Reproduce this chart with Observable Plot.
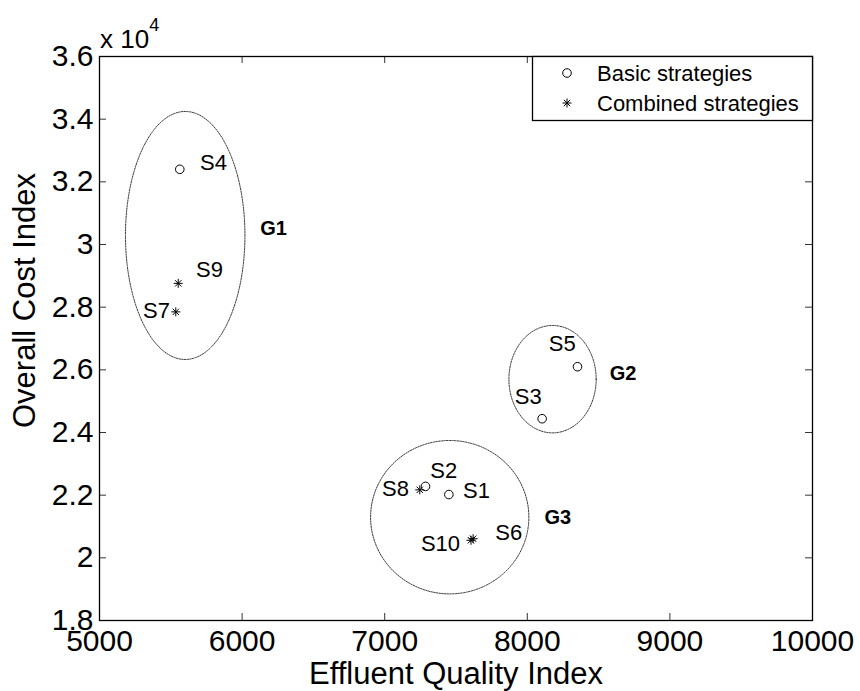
<!DOCTYPE html>
<html><head><meta charset="utf-8">
<script src="https://cdn.jsdelivr.net/npm/d3@7"></script>
<script src="https://cdn.jsdelivr.net/npm/@observablehq/plot@0.6"></script>
<style>
body{margin:0;background:#fff;}
#chart{position:relative;width:860px;height:691px;}
</style>
</head><body><div id="chart"></div>
<script>
// ---- Data ----
const strategies   = ["S1","S2","S3","S4","S5","S6","S7","S8","S9","S10"];
const effluent     = [7450, 7286, 8104, 5563, 8352, 7620, 5535, 7246, 5552, 7605];
const cost         = [22020, 22280, 24440, 32400, 26100, 20610, 27850, 22170, 28760, 20560];
const strategyType = ["Basic","Basic","Basic","Basic","Basic","Combined","Combined","Combined","Combined","Combined"];
// annotation anchor positions (data units) for the S-labels
const labelX       = [7644, 7414, 8006, 5799, 8245, 7870, 5400, 7076, 5771, 7391];
const labelY       = [22127, 22788, 25127, 32587, 26832, 20799, 27895, 22204, 29203, 20448];

const groups       = ["G1","G2","G3"];
const groupCx      = [5601, 8177, 7456];
const groupCy      = [30288, 25702, 21297];
const groupRx      = [419, 306, 555];
const groupRy      = [3958, 1714, 2448];
const groupLabelX  = [6220, 8672, 8214];
const groupLabelY  = [30512, 25893, 21297];

const xTicks       = [5000, 6000, 7000, 8000, 9000, 10000];
const yTicks       = [18000, 20000, 22000, 24000, 26000, 28000, 30000, 32000, 34000, 36000];
const yTickLabels  = ["1.8","2","2.2","2.4","2.6","2.8","3","3.2","3.4","3.6"];
const legendLabels = ["Basic strategies","Combined strategies"];

// ---- Tables ----
const points = strategies.map((s,i)=>({name:s, x:effluent[i], y:cost[i], type:strategyType[i], lx:labelX[i], ly:labelY[i]}));
const ellipsePts = [];
groups.forEach((g,i)=>{
  for(let k=0;k<=180;k++){
    const t = 2*Math.PI*k/180;
    ellipsePts.push({g, x: groupCx[i] + groupRx[i]*Math.cos(t), y: groupCy[i] + groupRy[i]*Math.sin(t)});
  }
});
const groupLabels = groups.map((g,i)=>({g, x:groupLabelX[i], y:groupLabelY[i]}));

// MATLAB-like '*' marker (plus + cross)
const asterisk8 = {
  draw(ctx, size){
    const a = Math.sqrt(size/Math.PI);
    const d = a*0.7071;
    ctx.moveTo(-a,0); ctx.lineTo(a,0);
    ctx.moveTo(0,-a); ctx.lineTo(0,a);
    ctx.moveTo(-d,-d); ctx.lineTo(d,d);
    ctx.moveTo(-d,d); ctx.lineTo(d,-d);
  }
};

const FONT = "'Liberation Sans', Arial, Helvetica, sans-serif";
const W = 860, H = 691, ML = 99, MR = 48, MT = 56, MB = 71;
const FW = W-ML-MR, FH = H-MT-MB;

const chart = Plot.plot({
  width: W, height: H,
  marginLeft: ML, marginRight: MR, marginTop: MT, marginBottom: MB,
  x: {domain: [5000, 10000]},
  y: {domain: [18000, 36000]},
  style: {fontFamily: FONT, background: "white", color: "black", overflow: "visible"},
  marks: [
    // ellipses
    Plot.line(ellipsePts, {x:"x", y:"y", z:"g", curve:"linear-closed", stroke:"#222", strokeWidth:0.9, strokeDasharray:"1.5,1.2"}),
    // inward ticks on all four sides
    Plot.ruleX(xTicks, {insetTop: FH-7, stroke:"#333", strokeWidth:1}),
    Plot.ruleX(xTicks, {insetBottom: FH-7, stroke:"#333", strokeWidth:1}),
    Plot.ruleY(yTicks, {insetRight: FW-7, stroke:"#333", strokeWidth:1}),
    Plot.ruleY(yTicks, {insetLeft: FW-7, stroke:"#333", strokeWidth:1}),
    // axes labels
    Plot.axisX(xTicks, {anchor:"bottom", tickSize:0, tickPadding:9, fontSize:30, label:null, tickFormat: d=>String(d)}),
    Plot.axisY(yTicks, {anchor:"left", tickSize:0, tickPadding:6, fontSize:30, label:null, tickFormat: d=>yTickLabels[yTicks.indexOf(d)]}),
    Plot.text(["Effluent Quality Index"], {frameAnchor:"bottom", dy: 54, fontSize:31, lineAnchor:"middle", textAnchor:"middle"}),
    Plot.text(["Overall Cost Index"], {frameAnchor:"left", rotate:-90, textAnchor:"middle", lineAnchor:"middle", dx:-74, dy:-38, fontSize:31}),
    // box
    Plot.frame({stroke:"black", strokeWidth:1.3}),
    // points
    Plot.dot(points.filter(d=>d.type==="Basic"), {x:"x", y:"y", r:4.3, symbol:"circle", stroke:"black", strokeWidth:1, fill:"none"}),
    Plot.dot(points.filter(d=>d.type==="Combined"), {x:"x", y:"y", r:4.5, symbol:asterisk8, stroke:"black", strokeWidth:1, fill:"none"}),
    // labels
    Plot.text(points, {x:"lx", y:"ly", text:"name", fontSize:22, fill:"black"}),
    Plot.text(groupLabels, {x:"x", y:"y", text:"g", fontSize:20, fontWeight:"bold", fill:"black"})
  ]
});
document.getElementById("chart").appendChild(chart);

// ---- Legend and exponent (drawn into the same SVG) ----
const svg = d3.select(chart);
const lg = svg.append("g").attr("font-family", FONT).attr("text-anchor", "start");
lg.append("rect").attr("x", 532.5).attr("y", MT+0.5).attr("width", 280).attr("height", 64)
  .attr("fill","white").attr("stroke","black").attr("stroke-width",1.3);
const symX = 567, txtX = 597, rowY = [73, 103];
lg.append("circle").attr("cx", symX).attr("cy", rowY[0]).attr("r", 4.3).attr("fill","none").attr("stroke","black");
lg.append("path").attr("transform",`translate(${symX},${rowY[1]})`)
  .attr("d", d3.symbol(asterisk8, 4.5*4.5*Math.PI)()).attr("fill","none").attr("stroke","black");
legendLabels.forEach((t,i)=>{
  lg.append("text").attr("x", txtX).attr("y", rowY[i]).attr("dy","0.35em").attr("font-size",22).attr("text-anchor","start").text(t);
});
const ex = svg.append("text").attr("x", 100).attr("y", 48).attr("font-family", FONT).attr("font-size", 26).attr("text-anchor","start");
ex.append("tspan").text("x 10");
ex.append("tspan").attr("font-size", 18).attr("dy", -17).text("4");
</script>
</body></html>
